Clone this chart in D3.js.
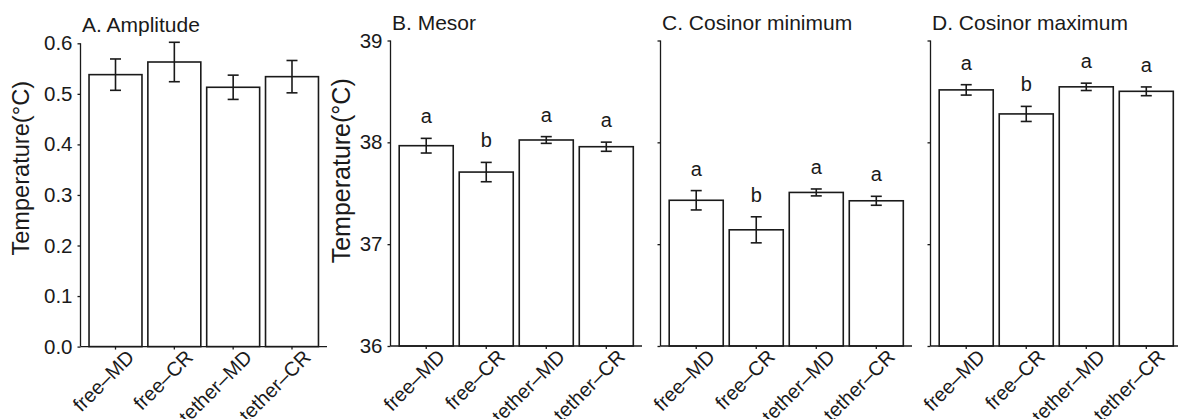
<!DOCTYPE html>
<html>
<head>
<meta charset="utf-8">
<script src="https://cdn.jsdelivr.net/npm/d3@7"></script>
<style>
  html, body { margin: 0; padding: 0; background: #fff; }
  svg { display: block; font-family: "Liberation Sans", Arial, Helvetica, sans-serif; }
</style>
</head>
<body>
<svg id="chart" width="1178" height="419"></svg>
<script>
// Groups shown on every panel
const categories = ["free–MD", "free–CR", "tether–MD", "tether–CR"];

// A. Amplitude (°C): means and standard errors
const amplitude   = [0.538, 0.563, 0.513, 0.534];
const amplitudeSE = [0.031, 0.039, 0.024, 0.032];

// B. Mesor (°C)
const mesor        = [37.967, 37.708, 38.023, 37.957];
const mesorSE      = [0.072, 0.095, 0.033, 0.045];
const mesorLetters = ["a", "b", "a", "a"];

// C. Cosinor minimum (°C)
const cosMin        = [37.431, 37.141, 37.508, 37.426];
const cosMinSE      = [0.095, 0.128, 0.034, 0.044];
const cosMinLetters = ["a", "b", "a", "a"];

// D. Cosinor maximum (°C)
const cosMax        = [38.515, 38.279, 38.545, 38.501];
const cosMaxSE      = [0.051, 0.074, 0.036, 0.043];
const cosMaxLetters = ["a", "b", "a", "a"];

// Axis ticks
const ampTicks  = [0, 0.1, 0.2, 0.3, 0.4, 0.5, 0.6];
const tempTicks = [36, 37, 38, 39];

const ink = "#1a1a1a";
const svg = d3.select("#chart");

const panels = [
  { title: "A. Amplitude", values: amplitude, se: amplitudeSE, letters: null,
    domain: [0, 0.6], ticks: ampTicks, tickFmt: d3.format(".1f"), showTickLabels: true,
    x0: 80.5, x1: 327, yTop: 43.3, yBottom: 346.6, titleY: 31.5,
    ylab: { x: 28.5, y: 168.3, size: 23.6 } },
  { title: "B. Mesor", values: mesor, se: mesorSE, letters: mesorLetters,
    domain: [36, 39], ticks: tempTicks, tickFmt: d3.format("d"), showTickLabels: true,
    x0: 390.5, x1: 642, yTop: 40.5, yBottom: 346, titleY: 30,
    ylab: { x: 350, y: 170.8, size: 25 } },
  { title: "C. Cosinor minimum", values: cosMin, se: cosMinSE, letters: cosMinLetters,
    domain: [36, 39], ticks: tempTicks, tickFmt: d3.format("d"), showTickLabels: false,
    x0: 660.5, x1: 912, yTop: 40.5, yBottom: 346, titleY: 30, ylab: null },
  { title: "D. Cosinor maximum", values: cosMax, se: cosMaxSE, letters: cosMaxLetters,
    domain: [36, 39], ticks: tempTicks, tickFmt: d3.format("d"), showTickLabels: false,
    x0: 930.5, x1: 1182, yTop: 40.5, yBottom: 346, titleY: 30, ylab: null }
];

panels.forEach(p => {
  const g = svg.append("g");

  const x = d3.scaleBand()
    .domain(categories)
    .range([p.x0, p.x1])
    .paddingInner(0.1)
    .paddingOuter(0.145);

  const y = d3.scaleLinear().domain(p.domain).range([p.yBottom, p.yTop]);
  const cx = d => x(d) + x.bandwidth() / 2;

  // bars
  g.selectAll("rect.bar")
    .data(categories)
    .join("rect")
    .attr("class", "bar")
    .attr("x", d => x(d))
    .attr("width", x.bandwidth())
    .attr("y", (d, i) => y(p.values[i]))
    .attr("height", (d, i) => y(p.domain[0]) - y(p.values[i]))
    .attr("fill", "#ffffff")
    .attr("stroke", ink)
    .attr("stroke-width", 1.6);

  // error bars (mean ± SE)
  const cap = 5.5;
  const eb = g.selectAll("g.err")
    .data(categories)
    .join("g")
    .attr("class", "err")
    .attr("stroke", ink)
    .attr("stroke-width", 1.6)
    .attr("fill", "none");
  eb.append("line")
    .attr("x1", cx).attr("x2", cx)
    .attr("y1", (d, i) => y(p.values[i] - p.se[i]))
    .attr("y2", (d, i) => y(p.values[i] + p.se[i]));
  eb.append("line")
    .attr("x1", d => cx(d) - cap).attr("x2", d => cx(d) + cap)
    .attr("y1", (d, i) => y(p.values[i] + p.se[i]))
    .attr("y2", (d, i) => y(p.values[i] + p.se[i]));
  eb.append("line")
    .attr("x1", d => cx(d) - cap).attr("x2", d => cx(d) + cap)
    .attr("y1", (d, i) => y(p.values[i] - p.se[i]))
    .attr("y2", (d, i) => y(p.values[i] - p.se[i]));

  // significance letters
  if (p.letters) {
    g.selectAll("text.letter")
      .data(categories)
      .join("text")
      .attr("class", "letter")
      .attr("x", cx)
      .attr("y", (d, i) => y(p.values[i] + p.se[i]) - 15)
      .attr("text-anchor", "middle")
      .attr("font-size", 20)
      .attr("fill", ink)
      .text((d, i) => p.letters[i]);
  }

  // y axis
  const yAxis = d3.axisLeft(y)
    .tickValues(p.ticks)
    .tickSize(3)
    .tickPadding(5)
    .tickFormat(p.showTickLabels ? p.tickFmt : "");
  const ya = g.append("g")
    .attr("transform", `translate(${p.x0},0)`)
    .call(yAxis);
  ya.select(".domain").attr("d", `M0,${p.yTop}V${p.yBottom}`);
  ya.selectAll("path, line").attr("stroke", ink).attr("stroke-width", 1.3);
  ya.selectAll("text").attr("font-size", 20.5).attr("fill", ink)
    .attr("font-family", "Liberation Sans, Arial, sans-serif");

  // x axis: baseline across the panel with small ticks at bar centres
  const xAxis = d3.axisBottom(x).tickSize(3).tickFormat("");
  const xa = g.append("g")
    .attr("transform", `translate(0,${p.yBottom})`)
    .call(xAxis);
  xa.select(".domain").attr("d", `M${p.x0},0H${p.x1}`);
  xa.selectAll("path, line").attr("stroke", ink).attr("stroke-width", 1.3);

  // rotated category labels
  g.selectAll("text.xlab")
    .data(categories)
    .join("text")
    .attr("class", "xlab")
    .attr("transform", d => `translate(${cx(d) + 20},${p.yBottom + 12}) rotate(-45)`)
    .attr("text-anchor", "end")
    .attr("font-size", 20)
    .attr("fill", ink)
    .text(d => d);

  // panel title
  g.append("text")
    .attr("x", p.x0 + 1.5)
    .attr("y", p.titleY)
    .attr("font-size", 21)
    .attr("fill", ink)
    .text(p.title);

  // y-axis title
  if (p.ylab) {
    g.append("text")
      .attr("transform", `translate(${p.ylab.x},${p.ylab.y}) rotate(-90)`)
      .attr("text-anchor", "middle")
      .attr("font-size", p.ylab.size)
      .attr("fill", ink)
      .text("Temperature(°C)");
  }
});
</script>
</body>
</html>
